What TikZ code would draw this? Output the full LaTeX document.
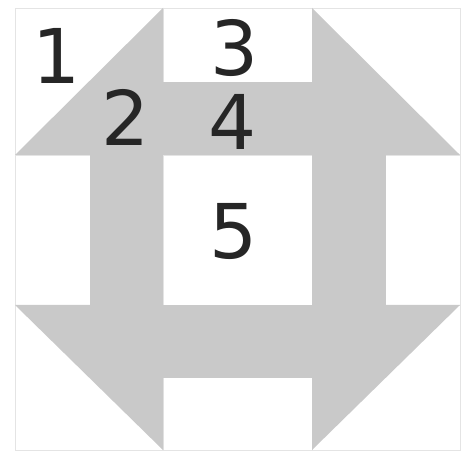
\documentclass[tikz,border=0pt]{standalone}
\usepackage{fontspec}
\setmainfont{DejaVu Sans}
\usetikzlibrary{positioning}
\definecolor{patchgray}{HTML}{C9C9C9}
\definecolor{seamgray}{HTML}{E4E4E4}
\tikzset{
  patch/.style={fill=patchgray, draw=none},
  seam/.style={draw=seamgray, line width=0.4pt},
  num/.style={text=black!85, inner sep=0pt, font=\fontsize{43}{43}\selectfont},
}

\begin{document}
\begin{tikzpicture}[x=0.02cm, y=-0.02cm]
  \useasboundingbox (0,0) rectangle (466,455);
  \fill[white] (0,0) rectangle (466,455);
  % faint seams of the block
  \draw[seam] (15,8) rectangle (460,450);
  \draw[seam] (163,8) -- (163,450) (312,8) -- (312,450);
  \draw[seam] (15,155) -- (460,155) (15,305) -- (460,305);
  % corner triangles
  \fill[patch] (15,155) -- (163,8) -- (163,155) -- cycle;
  \fill[patch] (312,8) -- (460,155) -- (312,155) -- cycle;
  \fill[patch] (15,305) -- (163,305) -- (163,450) -- cycle;
  \fill[patch] (312,305) -- (460,305) -- (312,450) -- cycle;
  % side bars
  \fill[patch] (163,82) rectangle (312,155);
  \fill[patch] (90,155) rectangle (163,305);
  \fill[patch] (312,155) rectangle (386,305);
  \fill[patch] (163,305) rectangle (312,378);
  % numbers
  \node[num] (n1) at (57,56) {1};
  \node[num] (n2) at (126,117) {2};
  \node[num] (n3) at (235,48) {3};
  \node[num] (n4) at (233,122) {4};
  \node[num] (n5) at (234,231) {5};
\end{tikzpicture}
\end{document}
